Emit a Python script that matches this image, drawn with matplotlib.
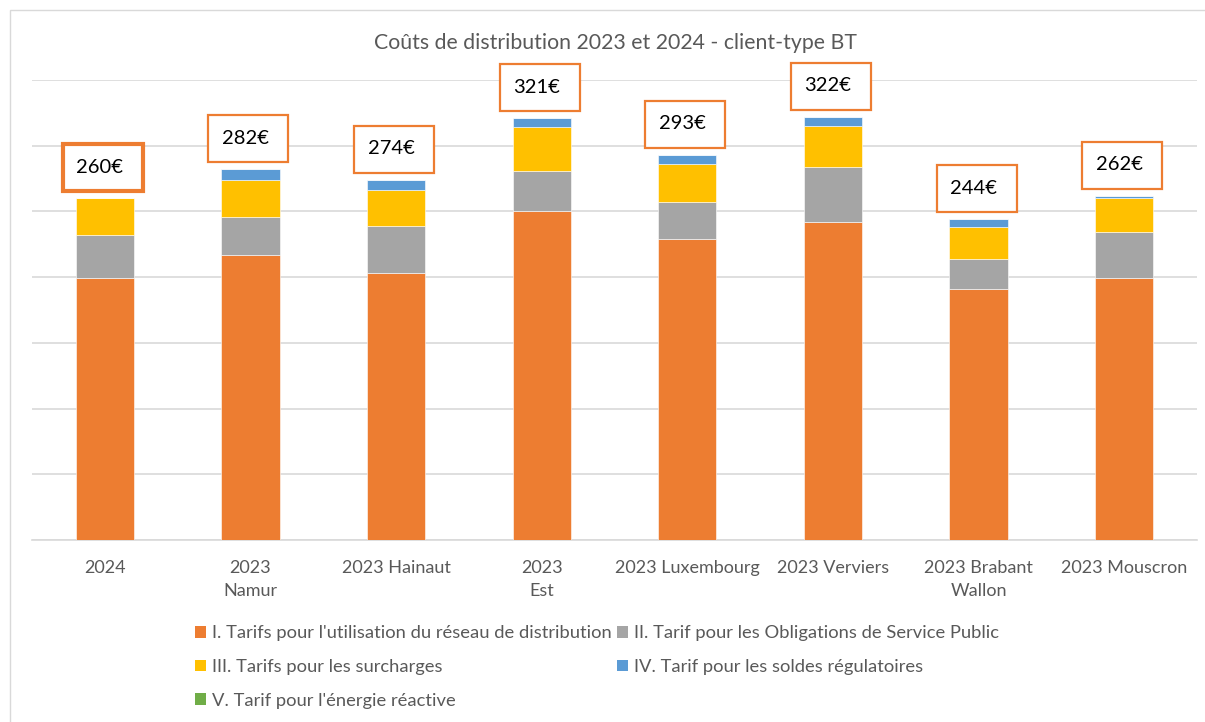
import matplotlib
matplotlib.use("Agg")
import matplotlib.pyplot as plt
from matplotlib.patches import Rectangle, Patch
from matplotlib.transforms import Affine2D, ScaledTranslation
import numpy as np

plt.rcParams['font.family'] = ['Lato', 'DejaVu Sans']

categories = ["2024", "2023\nNamur", "2023 Hainaut", "2023\nEst", "2023 Luxembourg",
              "2023 Verviers", "2023 Brabant\nWallon", "2023 Mouscron"]
reseau = [199, 217, 203, 250, 229, 242, 191, 199]
osp = [33, 29, 36, 31, 28, 42, 23, 35]
surcharges = [28, 28, 27, 33, 29, 31, 24, 26]
soldes = [0, 8, 8, 7, 7, 7, 6, 2]
reactive = [0, 0, 0, 0, 0, 0, 0, 0]
totals = [260, 282, 274, 321, 293, 322, 244, 262]

series_names = ["I. Tarifs pour l'utilisation du réseau de distribution",
                "II. Tarif pour les Obligations de Service Public",
                "III. Tarifs pour les surcharges",
                "IV. Tarif pour les soldes régulatoires",
                "V. Tarif pour l'énergie réactive"]
colors = ["#ED7D31", "#A5A5A5", "#FFC000", "#5B9BD5", "#70AD47"]

W, H = 1205, 722
fig = plt.figure(figsize=(W / 100, H / 100), dpi=100)
ax = fig.add_axes([32 / W, 1 - 540 / H, 1165 / W, 460 / H])

x = np.arange(len(categories))
bottom = np.zeros(len(categories))
for vals, col in zip([reseau, osp, surcharges, soldes, reactive], colors):
    ax.bar(x, vals, width=0.4, bottom=bottom, color=col, edgecolor='white',
           linewidth=0.4, zorder=3)
    bottom += np.array(vals)

ax.set_xlim(-0.5, len(categories) - 0.5)
ax.set_ylim(0, 350)
ax.set_yticks(np.arange(0, 351, 50))
ax.yaxis.grid(True, color='#D9D9D9', linewidth=1.2, zorder=0)
ax.tick_params(axis='y', left=False, labelleft=False)
ax.tick_params(axis='x', bottom=False, labelsize=13, colors='#595959', pad=11)
ax.set_xticks(x)
ax.set_xticklabels(categories, linespacing=1.5)
for s in ['top', 'right', 'left']:
    ax.spines[s].set_visible(False)
ax.spines['bottom'].set_color('#D9D9D9')
ax.spines['bottom'].set_linewidth(1.2)

# total labels in boxes
for i, t in enumerate(totals):
    base = ScaledTranslation(i, t, ax.transData)
    lw = 3 if i == 0 else 1.6
    rect = Rectangle((-42, 7), 80, 47, transform=Affine2D() + base,
                     facecolor='white', edgecolor='#ED7D31', linewidth=lw,
                     clip_on=False, zorder=5)
    ax.add_artist(rect)
    ax.annotate(f"{t}€", xy=(i, t), xytext=(-5, 31), textcoords='offset pixels',
                ha='center', va='center', fontsize=14.5, color='black', zorder=6)

fig.text(615 / W, 1 - 43 / H, "Coûts de distribution 2023 et 2024 - client-type BT",
         ha='center', va='center', fontsize=15.3, color='#595959')

handles = [Patch(facecolor=c) for c in colors]
order = [0, 2, 4, 1, 3]
leg = fig.legend([handles[k] for k in order], [series_names[k] for k in order],
                 ncol=2, loc='upper center', bbox_to_anchor=(597 / W, 1 - 616 / H),
                 frameon=False, fontsize=13.2, handlelength=0.6, handleheight=0.6,
                 handletextpad=0.3, columnspacing=0.3, labelspacing=0.97,
                 borderpad=0, labelcolor='#595959')

border = Rectangle((10 / W, -0.1), 1.2, 1 - 10 / H + 0.1, transform=fig.transFigure,
                   fill=False, edgecolor='#D9D9D9', linewidth=1)
fig.add_artist(border)

fig.savefig("out.png", dpi=100)
